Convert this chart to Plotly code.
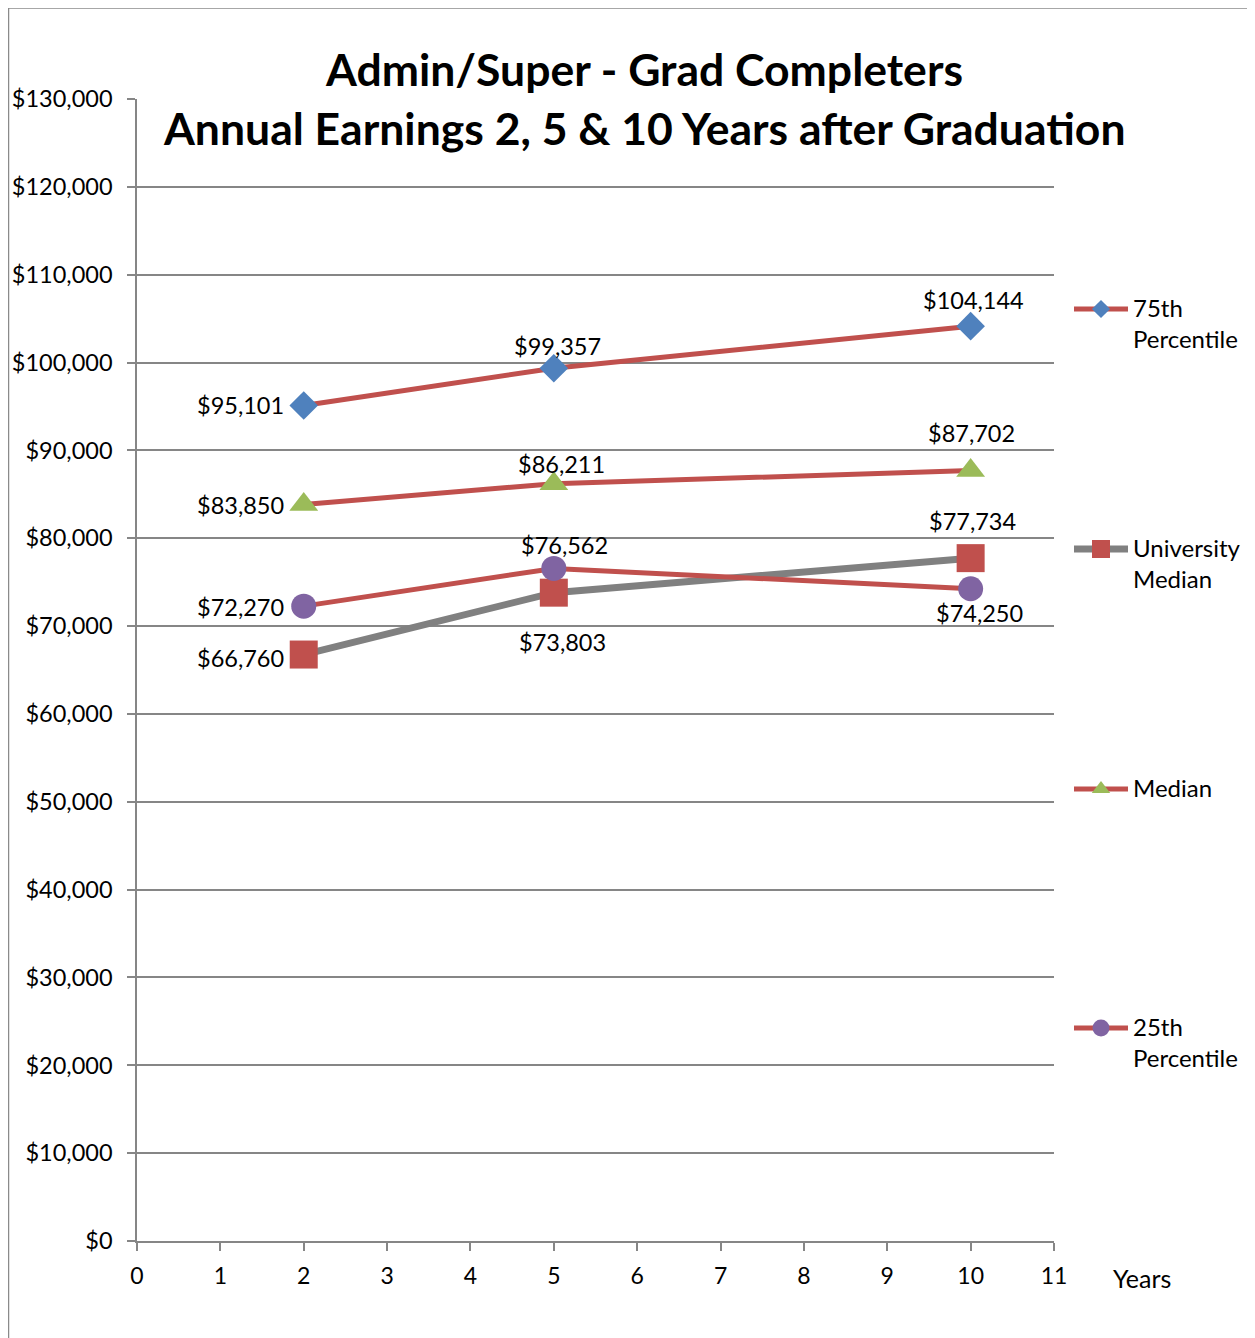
import plotly.graph_objects as go

years = [2, 5, 10]
p75 = [95101, 99357, 104144]
univ_median = [66760, 73803, 77734]
median = [83850, 86211, 87702]
p25 = [72270, 76562, 74250]

series_names = ["75th<br>Percentile", "University<br>Median", "Median", "25th<br>Percentile"]

W, H = 1255, 1338
OFF = 8  # default body margin of the html page
FW, FH = W - OFF, H - OFF
L, R, T, B = 137, 1054, 99, 1241  # plot area in page pixels

RED = "#C0504D"
GRAY = "#808080"
BLUE = "#4F81BD"
GREEN = "#9BBB59"
PURPLE = "#8064A2"
FONT = "Lato"
LBL = 23.5

def px(x):
    return (x - OFF) / FW

def py(y):
    return 1 - (y - OFF) / FH

def money(v):
    return "${:,}".format(v)

fig = go.Figure()
annots = []

def add_series(y, line_color, lw, symbol, mcolor, msize, label_shifts):
    fig.add_trace(go.Scatter(
        x=years, y=y, mode="lines+markers",
        line=dict(color=line_color, width=lw),
        marker=dict(symbol=symbol, color=mcolor, size=msize, line=dict(width=0)),
        cliponaxis=False, showlegend=False))
    for xv, yv, (kind, dy) in zip(years, y, label_shifts):
        if kind == "left":
            annots.append(dict(x=xv, y=yv, xref="x", yref="y", text=money(yv), showarrow=False,
                               xanchor="right", yanchor="middle", xshift=-18, yshift=-dy,
                               font=dict(family=FONT, size=LBL, color="black")))
        else:
            annots.append(dict(x=xv, y=yv, xref="x", yref="y", text=money(yv), showarrow=False,
                               xanchor="center", yanchor="middle", xshift=kind, yshift=-dy,
                               font=dict(family=FONT, size=LBL, color="black")))

add_series(univ_median, GRAY, 7, "square", RED, 28, [("left", 3), (9, 49), (2, -37)])
add_series(p75, RED, 5, "diamond", BLUE, 22, [("left", -1), (4, -22), (3, -26)])
add_series(median, RED, 5, "triangle-up", GREEN, 25, [("left", 1), (8, -20), (1, -38)])
add_series(p25, RED, 5, "circle", PURPLE, 25, [("left", 1), (11, -23), (9, 24)])

# legend (manual)
leg_items = [
    (series_names[0], RED, 5, "diamond", BLUE, 14, 309),
    (series_names[1], GRAY, 7, "square", RED, 18, 549),
    (series_names[2], RED, 5, "triangle-up", GREEN, 16, 789),
    (series_names[3], RED, 5, "circle", PURPLE, 17, 1028),
]
shapes = []
for name, lc, lw, sym, mc, ms, ly in leg_items:
    shapes.append(dict(type="line", xref="paper", yref="paper", x0=px(1074), x1=px(1128),
                       y0=py(ly), y1=py(ly), line=dict(color=lc, width=lw), layer="below"))
    fig.add_trace(go.Scatter(x=[1101], y=[ly], xaxis="x2", yaxis="y2", mode="markers",
                             marker=dict(symbol=sym, color=mc, size=ms, line=dict(width=0)),
                             showlegend=False, hoverinfo="skip"))
    annots.append(dict(xref="paper", yref="paper", x=px(1131), y=py(ly - 18), text=name,
                       showarrow=False, xanchor="left", yanchor="top", align="left",
                       font=dict(family=FONT, size=24, color="black")))

# outer frame
shapes.append(dict(type="rect", xref="paper", yref="paper", x0=px(8.5), x1=px(1253),
                   y0=py(1345), y1=py(8), line=dict(color="#8A8A8A", width=1.5), layer="below"))

# title
annots.append(dict(xref="paper", yref="paper", x=px(644), y=py(68),
                   text="<b>Admin/Super - Grad Completers</b>",
                   showarrow=False, xanchor="center", yanchor="middle",
                   font=dict(family=FONT, size=44.5, color="black")))
annots.append(dict(xref="paper", yref="paper", x=px(644), y=py(127),
                   text="<b>Annual Earnings 2, 5 &amp; 10 Years after Graduation</b>",
                   showarrow=False, xanchor="center", yanchor="middle",
                   font=dict(family=FONT, size=44.5, color="black")))

# axis title
annots.append(dict(xref="paper", yref="paper", x=px(1111), y=py(1278), text="Years", showarrow=False,
                   xanchor="left", yanchor="middle", font=dict(family=FONT, size=25, color="black")))

fig.update_layout(
    width=FW, height=FH,
    margin=dict(l=0, r=0, t=0, b=0, pad=0),
    paper_bgcolor="white", plot_bgcolor="rgba(0,0,0,0)",
    shapes=shapes, annotations=annots,
    xaxis=dict(domain=[px(L), px(R)], range=[0, 11], dtick=1, tick0=0, showgrid=False,
               zeroline=False, showline=True, linecolor="#868686", linewidth=1.5,
               ticks="outside", ticklen=8, tickcolor="#868686", tickwidth=1.5,
               ticklabelstandoff=6, automargin=False,
               tickfont=dict(family=FONT, size=23, color="black")),
    yaxis=dict(domain=[py(B), py(T)], range=[0, 130000], dtick=10000, tick0=0, showgrid=True,
               gridcolor="#868686", gridwidth=1.5, zeroline=False, showline=True,
               linecolor="#868686", linewidth=1.5,
               ticks="outside", ticklen=8, tickcolor="#868686", tickwidth=1.5,
               tickprefix="$", tickformat=",d", ticklabelstandoff=10, automargin=False,
               tickfont=dict(family=FONT, size=23.5, color="black")),
    xaxis2=dict(domain=[0, 1], range=[OFF, OFF + FW], anchor="y2", visible=False),
    yaxis2=dict(domain=[0, 1], range=[OFF + FH, OFF], anchor="x2", visible=False),
    showlegend=False,
)

fig.write_html("out.html")
